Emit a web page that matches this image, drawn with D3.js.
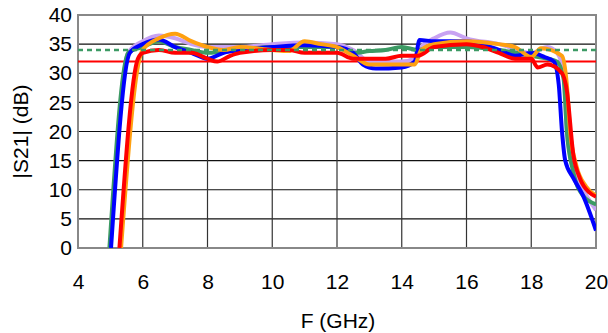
<!DOCTYPE html>
<html><head><meta charset="utf-8">
<script src="https://cdn.jsdelivr.net/npm/d3@7"></script>
<style>body{margin:0;background:#fff}svg{display:block}text{font-family:"Liberation Sans",Arial,sans-serif;fill:#000}</style>
</head><body>
<svg id="c" width="608" height="333"></svg>
<script>
const xTicks = [4,6,8,10,12,14,16,18,20];
const yTicks = [0,5,10,15,20,25,30,35,40];
const xLabel = "F (GHz)";
const yLabel = "|S21| (dB)";

const purpleF = [5.0,5.55,6.0,6.5,7.0,7.5,8.0,9.0,10.0,11.0,12.0,12.5,13.0,14.0,14.4,14.6,15.0,15.5,16.0,17.0,18.0,18.5,18.8,19.0,19.1,19.3,19.6,20.0];
const purpleV = [0,33.5,35.5,36.5,36.0,35.0,34.5,34.5,35.0,35.3,35.0,34.0,32.0,32.0,32.5,34.5,36.0,37.0,36.0,35.0,33.5,34.5,33.5,30.0,20.0,13.5,10.0,6.5];

const greenF = [4.97,5.55,6.0,6.5,7.0,7.5,8.0,9.0,10.0,11.0,12.0,12.5,13.0,13.5,14.0,14.5,15.0,16.0,17.0,18.0,18.5,18.8,19.0,19.1,19.3,19.6,20.0];
const greenV = [0,33.5,34.5,35.5,34.5,34.0,33.5,34.0,34.5,34.5,34.5,33.5,33.8,34.0,34.5,34.0,34.5,34.5,34.0,33.0,32.5,32.0,29.0,20.0,13.0,9.0,7.5];

const blueF = [5.02,5.6,6.0,6.5,7.0,7.5,8.0,8.5,9.0,10.0,11.0,12.0,12.5,12.8,13.2,14.0,14.4,14.55,15.0,16.0,17.0,17.5,18.0,18.4,18.7,18.85,18.95,19.05,19.3,19.6,20.0];
const blueV = [0,33.5,35.0,35.8,34.5,33.5,32.5,33.5,34.0,34.5,34.8,34.5,33.5,31.5,30.8,31.0,32.0,35.7,35.5,35.5,34.0,33.0,33.5,32.8,32.0,28.0,20.0,15.0,12.0,9.0,3.0];

const orangeF = [5.33,5.9,6.0,6.5,7.0,7.5,8.0,8.5,9.0,10.0,10.5,11.0,11.5,12.0,12.5,13.0,13.5,14.0,14.4,14.6,15.0,16.0,17.0,17.5,18.0,18.3,18.95,19.1,19.2,19.4,19.7,20.0];
const orangeV = [0,32.5,34.0,36.0,36.8,35.5,34.5,34.0,34.5,34.0,33.8,35.5,35.0,34.5,33.0,31.5,31.5,31.5,31.5,34.0,35.0,35.5,35.0,34.5,32.8,34.3,33.0,28.0,20.0,14.0,10.5,9.0];

const redF = [5.28,5.85,6.0,6.5,7.0,7.5,8.0,8.3,8.7,9.0,10.0,10.5,11.0,12.0,12.5,13.0,13.5,14.0,14.5,15.0,16.0,16.5,17.0,17.5,18.0,18.2,18.5,18.95,19.1,19.3,19.5,19.8,20.0];
const redV = [0,32.5,33.5,34.0,33.5,33.5,32.5,32.0,33.0,33.5,34.0,34.0,33.5,33.5,32.5,32.5,32.5,33.0,33.0,34.5,35.0,34.5,33.5,32.5,32.5,31.0,31.5,30.0,27.0,16.0,12.0,9.5,8.8];

const refGreen = 34;
const refRed = 32;

const svg = d3.select("#c");
const x = d3.scaleLinear().domain([4,20]).range([78,596]);
const y = d3.scaleLinear().domain([0,40]).range([248,15]);
const FS = 21;

// grid
svg.append("g").selectAll("line").data(yTicks.filter(d=>d>0&&d<40)).join("line")
  .attr("x1",x(4)).attr("x2",x(20)).attr("y1",d=>y(d)).attr("y2",d=>y(d))
  .attr("stroke","#111").attr("stroke-width",1.2);
svg.append("g").selectAll("line").data(xTicks.filter(d=>d>4&&d<20)).join("line")
  .attr("y1",y(0)).attr("y2",y(40)).attr("x1",d=>x(d)).attr("x2",d=>x(d))
  .attr("stroke","#333").attr("stroke-width",1.2);
svg.append("rect").attr("x",x(4)).attr("y",y(40)).attr("width",x(20)-x(4)).attr("height",y(0)-y(40))
  .attr("fill","none").attr("stroke","#888").attr("stroke-width",2);

// axes labels
const yAxis = d3.axisLeft(y).tickValues(yTicks).tickSize(0).tickPadding(6);
const gy = svg.append("g").attr("transform",`translate(${x(4)},0)`).call(yAxis);
gy.select(".domain").remove();
gy.selectAll("text").attr("font-size",FS).attr("font-family","Liberation Sans, Arial, sans-serif").attr("fill","#000");
const xAxis = d3.axisBottom(x).tickValues(xTicks).tickSize(0).tickPadding(0);
const gx = svg.append("g").attr("transform",`translate(0,${y(0)})`).call(xAxis);
gx.select(".domain").remove();
gx.selectAll("text").attr("font-size",FS).attr("font-family","Liberation Sans, Arial, sans-serif").attr("fill","#000")
  .attr("dy",null).attr("y",41);

svg.append("text").attr("x",338).attr("y",328).attr("text-anchor","middle").attr("font-size",FS).text(xLabel);
svg.append("text").attr("transform",`translate(28,${(y(0)+y(40))/2}) rotate(-90)`).attr("text-anchor","middle").attr("font-size",FS).text(yLabel);

const clip = svg.append("clipPath").attr("id","clp").append("rect")
  .attr("x",x(4)).attr("y",y(40)-3).attr("width",x(20)-x(4)).attr("height",y(0)-y(40)+3);
const plot = svg.append("g").attr("clip-path","url(#clp)");

// reference lines
plot.append("line").attr("x1",x(4)).attr("x2",x(20)).attr("y1",y(refRed)).attr("y2",y(refRed))
  .attr("stroke","#ff0000").attr("stroke-width",2);

const line = d3.line().x(d=>x(d[0])).y(d=>y(d[1])).curve(d3.curveMonotoneX);
const series = [
  {f:purpleF,v:purpleV,c:"#c8a2f2"},
  {f:greenF,v:greenV,c:"#3c9a64"},
  {f:blueF,v:blueV,c:"#0000ff"},
  {f:orangeF,v:orangeV,c:"#ffa010"},
  {f:redF,v:redV,c:"#ff0000"}
];
series.forEach(s=>{
  plot.append("path").datum(s.f.map((f,i)=>[f,s.v[i]]))
    .attr("d",line).attr("fill","none").attr("stroke",s.c).attr("stroke-width",4)
    .attr("stroke-linejoin","round").attr("stroke-linecap","butt");
});
plot.append("line").attr("x1",x(4)).attr("x2",x(20)).attr("y1",y(refGreen)).attr("y2",y(refGreen))
  .attr("stroke","#3c9a64").attr("stroke-width",2.5).attr("stroke-dasharray","5,4");
</script>
</body></html>
